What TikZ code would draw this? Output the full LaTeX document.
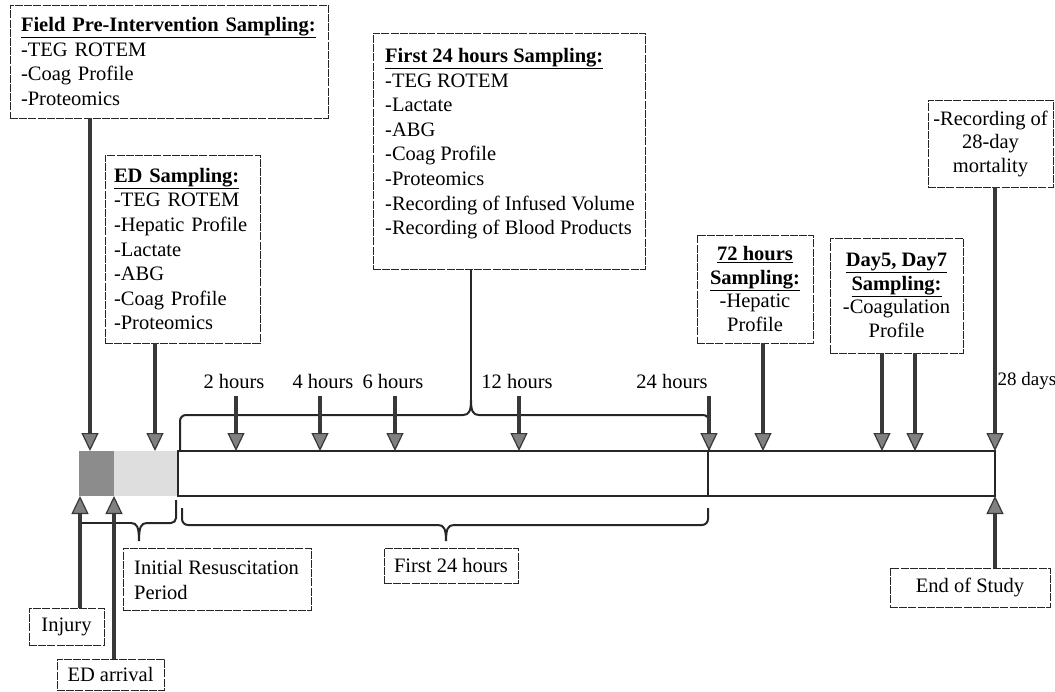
\documentclass[tikz,border=0pt]{standalone}
\usepackage{fontspec}
\setmainfont{Liberation Serif}
\usetikzlibrary{arrows.meta}
\begin{document}
\begin{tikzpicture}[x=1pt,y=-1pt,
  box/.style={draw=black!85, line width=0.9pt, dash pattern=on 8pt off 1.2pt, inner sep=0pt},
  txt/.style={font=\fontsize{20.5}{24.6}\selectfont, inner sep=0pt},
  arr/.style={line width=4.5pt, draw=black!78, -{Triangle[length=18pt,width=17pt,line width=1.2pt,fill=black!50]}},
  barbox/.style={draw=black!85, line width=1.8pt, inner sep=0pt, minimum height=45pt},
  bracepath/.style={draw=black!85, line width=2pt},
]
\useasboundingbox (0,0) rectangle (1055,691);

% ---------- sampling boxes ----------
\node[box, txt, align=left, text width=296pt, inner xsep=11pt, minimum height=113pt] (fieldbox) at (169,61.5)
  {\underline{\textbf{Field Pre-Intervention Sampling:}}\\-TEG ROTEM\\-Coag Profile\\-Proteomics};
\node[box, txt, align=left, text width=137pt, inner xsep=9pt, minimum height=188pt] (edbox) at (182.5,249)
  {\underline{\textbf{ED Sampling:}}\\-TEG ROTEM\\-Hepatic Profile\\-Lactate\\-ABG\\-Coag Profile\\-Proteomics};
\node[box, minimum width=272pt, minimum height=236pt] (f24box) at (509,151) {};
\node[txt, align=left, anchor=north west] (f24txt) at (385,48)
  {\underline{\textbf{First 24 hours Sampling:}}\\-TEG ROTEM\\-Lactate\\-ABG\\-Coag Profile\\-Proteomics\\-Recording of Infused Volume\\-Recording of Blood Products};
\node[box, txt, font=\fontsize{20.5}{23.6}\selectfont, align=center, minimum width=116pt, minimum height=108pt] (h72box) at (755,289)
  {\underline{\textbf{72 hours}}\\\underline{\textbf{Sampling:}}\\-Hepatic\\Profile};
\node[box, txt, font=\fontsize{20.5}{23.6}\selectfont, align=center, minimum width=133pt, minimum height=115pt] (d5box) at (896.5,295.5)
  {\underline{\textbf{Day5, Day7}}\\\underline{\textbf{Sampling:}}\\-Coagulation\\Profile};
\node[box, txt, font=\fontsize{20.5}{23.5}\selectfont, align=center, minimum width=125pt, minimum height=87pt] (recbox) at (990.5,143.5)
  {-Recording of\\28-day\\mortality};

% ---------- lower boxes ----------
\node[box, minimum width=188pt, minimum height=62pt] (initbox) at (217,579) {};
\node[txt, align=left, anchor=west] (inittxt) at (134,580) {Initial Resuscitation\\Period};
\node[box, txt, minimum width=134pt, minimum height=35pt] (f24lbl) at (451,565.5) {First 24 hours};
\node[box, txt, minimum width=75pt, minimum height=37pt] (injbox) at (66.5,626.5) {Injury};
\node[box, txt, minimum width=107pt, minimum height=31pt] (edarr) at (110.5,674.5) {ED arrival};
\node[box, txt, minimum width=160pt, minimum height=39pt] (eosbox) at (970,587.5) {End of Study};

% ---------- timeline bar ----------
\node[fill=black!45, inner sep=0pt, minimum width=35pt, minimum height=45pt] (sqD) at (96.5,473.5) {};
\node[fill=black!13, inner sep=0pt, minimum width=64pt, minimum height=45pt] (sqL) at (146,473.5) {};
\node[barbox, minimum width=530pt] (bar1) at (443,473.5) {};
\node[barbox, minimum width=287pt] (bar2) at (851.5,473.5) {};

% ---------- time labels ----------
\node[txt] (l2) at (234,381) {2 hours};
\node[txt] (l4) at (323,381) {4 hours};
\node[txt] (l6) at (393,381) {6 hours};
\node[txt] (l12) at (517,381) {12 hours};
\node[txt] (l24) at (672,381) {24 hours};
\node[txt, font=\fontsize{19}{23}\selectfont, anchor=west] (l28) at (997.5,381) {28 days};

% ---------- coordinates ----------
\coordinate (t0) at (90,451);
\coordinate (t1) at (155,451);
\coordinate (t2) at (236,451);
\coordinate (t4) at (320,451);
\coordinate (t6) at (395,451);
\coordinate (t12) at (519,451);
\coordinate (t24) at (709,451);
\coordinate (t72) at (763,451);
\coordinate (td5) at (882,451);
\coordinate (td7) at (915,451);
\coordinate (td28) at (995,451);
\coordinate (a2) at (236,396);
\coordinate (a4) at (320,396);
\coordinate (a6) at (395,396);
\coordinate (a12) at (519,396);
\coordinate (a24) at (709,396);
\coordinate (binj) at (80,496);
\coordinate (bed) at (114,496);
\coordinate (beos) at (995,496);
\coordinate (peak) at (471,400);
\coordinate (ltip) at (139,541);
\coordinate (btip) at (446,541);

% ---------- braces ----------
\draw[bracepath, rounded corners=6pt] (180,451) -- (180,415) -- (463,415);
\draw[bracepath] (463,415) .. controls (469,415) and (471,411) .. (peak)
                 .. controls (471,411) and (473,415) .. (479,415);
\draw[bracepath, rounded corners=6pt] (479,415) -- (709,415) -- (709,451);
\draw[bracepath] (f24box.south -| peak) -- (peak);

\draw[bracepath, rounded corners=5pt] (82,523) -- (131,523);
\draw[bracepath] (131,523) .. controls (137,523) and (139,527) .. (ltip)
                 .. controls (139,527) and (141,523) .. (147,523);
\draw[bracepath, rounded corners=5pt] (147,523) -- (176,523) -- (176,500);

\draw[bracepath, rounded corners=6pt] (182,508) -- (182,525) -- (438,525);
\draw[bracepath] (438,525) .. controls (444,525) and (446,529) .. (btip)
                 .. controls (446,529) and (448,525) .. (454,525);
\draw[bracepath, rounded corners=6pt] (454,525) -- (708,525) -- (708,508);

% ---------- arrows ----------
\draw[arr] (fieldbox.south -| t0) -- (t0);
\draw[arr] (edbox.south -| t1) -- (t1);
\draw[arr] (a2) -- (t2);
\draw[arr] (a4) -- (t4);
\draw[arr] (a6) -- (t6);
\draw[arr] (a12) -- (t12);
\draw[arr] (a24) -- (t24);
\draw[arr] (h72box.south -| t72) -- (t72);
\draw[arr] (d5box.south -| td5) -- (td5);
\draw[arr] (d5box.south -| td7) -- (td7);
\draw[arr] (recbox.south -| td28) -- (td28);
\draw[arr] (injbox.north -| binj) -- (binj);
\draw[arr] (edarr.north -| bed) -- (bed);
\draw[arr] (eosbox.north -| beos) -- (beos);
\end{tikzpicture}
\end{document}
